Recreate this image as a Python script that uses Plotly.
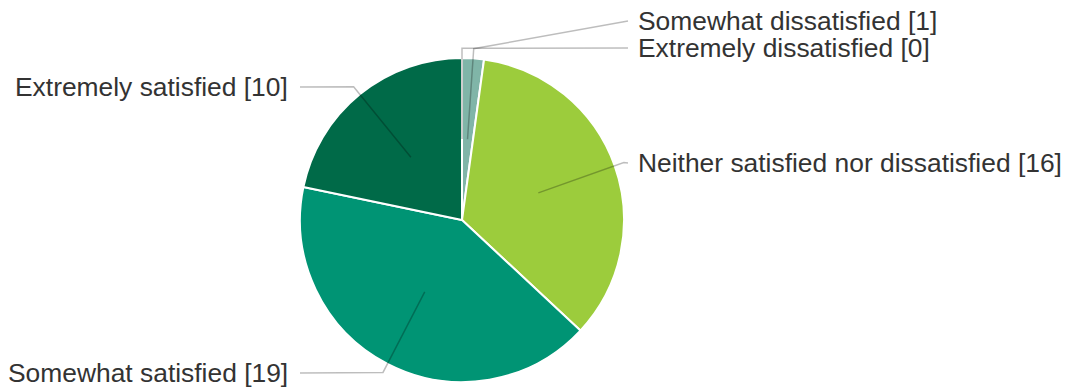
import math
import plotly.graph_objects as go

# ---- data ----
labels = ["Extremely dissatisfied", "Somewhat dissatisfied",
          "Neither satisfied nor dissatisfied", "Somewhat satisfied",
          "Extremely satisfied"]
values = [0, 1, 16, 19, 10]
colors = ["#b0b0b0", "#80b5a8", "#9ccc3c", "#009474", "#006a48"]

# ---- layout constants (pixels) ----
W, H = 1073, 388
CX, CY, R = 462, 220, 162
# label placement: (side, label y in px)
label_pos = {
    "Extremely dissatisfied": ("right", 48),
    "Somewhat dissatisfied": ("right", 21),
    "Neither satisfied nor dissatisfied": ("right", 163),
    "Somewhat satisfied": ("left", 373),
    "Extremely satisfied": ("left", 87),
}
LEFT_TEXT_X, LEFT_LINE_X = 290, 300
RIGHT_TEXT_X, RIGHT_LINE_X = 636, 628

fig = go.Figure(go.Pie(
    labels=labels, values=values, sort=False, direction="clockwise",
    rotation=0, textinfo="none", hoverinfo="label+value",
    marker=dict(colors=colors, line=dict(color="white", width=2)),
    domain=dict(x=[(CX - R) / W, (CX + R) / W],
                y=[(H - CY - R) / H, (H - CY + R) / H]),
    showlegend=False,
))

def px(x, y):
    return x / W, 1 - y / H

total = sum(values)
cum = 0
shapes, annots = [], []
for lab, v in zip(labels, values):
    mid = (cum + v / 2) / total * 2 * math.pi
    cum += v
    dx, dy = math.sin(mid), -math.cos(mid)
    x0, y0 = CX + 0.5 * R * dx, CY + 0.5 * R * dy
    x1, y1 = CX + 1.06 * R * dx, CY + 1.06 * R * dy
    side, ly = label_pos[lab]
    x2 = LEFT_LINE_X if side == "left" else RIGHT_LINE_X
    pts = [px(x0, y0), px(x1, y1), px(x2, ly)]
    path = "M {} {} L {} {} L {} {}".format(*[c for p in pts for c in p])
    shapes.append(dict(type="path", path=path, xref="paper", yref="paper",
                       line=dict(color="rgba(0,0,0,0.26)", width=1.5),
                       layer="above"))
    tx = LEFT_TEXT_X if side == "left" else RIGHT_TEXT_X
    ax, ay = px(tx, ly)
    annots.append(dict(text=f"{lab} [{v}]", x=ax, y=ay, xref="paper",
                       yref="paper", showarrow=False,
                       xanchor="right" if side == "left" else "left",
                       yanchor="middle",
                       font=dict(size=26.4, color="#333333",
                                 family="Liberation Sans, Arial, sans-serif")))

fig.update_layout(width=W, height=H, margin=dict(l=0, r=0, t=0, b=0),
                  paper_bgcolor="white", plot_bgcolor="white",
                  shapes=shapes, annotations=annots)
fig.write_html("out.html", config={"displayModeBar": False},
               post_script="document.body.style.margin='0';"
                           "document.body.style.overflow='hidden';")
